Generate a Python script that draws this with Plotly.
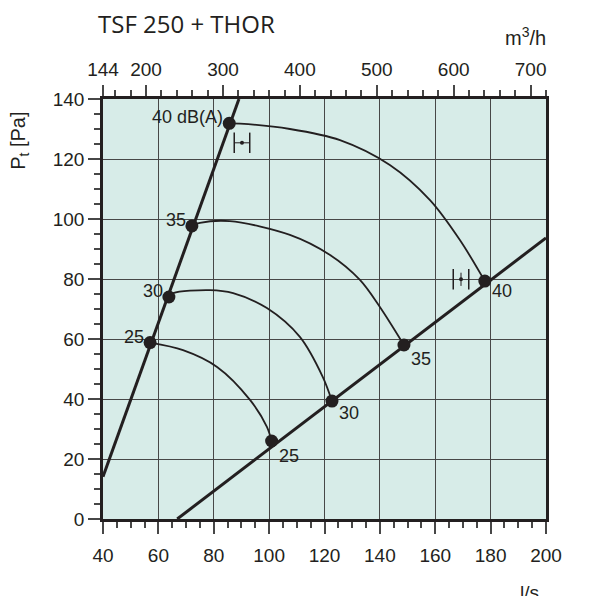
import plotly.graph_objects as go

# flow in l/s, pressure in Pa
levels = ["25", "30", "35", "40"]
left_q = [57.0, 63.8, 72.1, 85.6]
left_p = [58.8, 74.0, 97.7, 131.9]
right_q = [100.9, 122.7, 148.7, 177.9]
right_p = [26.0, 39.3, 58.0, 79.3]

# system lines
sys_left_q = [40, 89.1]
sys_left_p = [14.1, 140]
sys_right_q = [66.8, 200]
sys_right_p = [0, 93.7]

# sound level curves (dB(A)) between the two system lines
curve_q = {
    "25": [57.0, 68.9, 81.2, 93.1, 99.2, 100.9],
    "30": [63.8, 65.4, 78.6, 87.0, 99.2, 111.1, 119.4, 122.7],
    "35": [72.1, 75.0, 85.8, 107.5, 122.0, 132.8, 140.0, 148.7],
    "40": [85.6, 89.5, 107.5, 125.6, 143.6, 158.1, 168.9, 177.9],
}
curve_p = {
    "25": [58.8, 56.3, 50.7, 39.7, 30.7, 26.0],
    "30": [74.0, 75.3, 76.3, 75.3, 70.3, 60.7, 47.3, 39.3],
    "35": [97.7, 98.7, 99.3, 94.7, 88.0, 79.7, 70.7, 58.0],
    "40": [131.9, 131.8, 130.0, 126.3, 118.0, 106.3, 93.0, 79.3],
}

# tolerance markers (position in l/s, Pa)
tol_q = [90.2, 169.3]
tol_p = [125.4, 79.9]

m3h_ticks = [144, 200, 300, 400, 500, 600, 700]

ink = "#231f20"
grid = "#474747"
fnt = "Liberation Sans"

fig = go.Figure()

fig.add_trace(go.Scatter(x=sys_left_q, y=sys_left_p, mode="lines",
                         line=dict(color=ink, width=3), hoverinfo="skip"))
fig.add_trace(go.Scatter(x=sys_right_q, y=sys_right_p, mode="lines",
                         line=dict(color=ink, width=3), hoverinfo="skip"))

for lv in levels:
    fig.add_trace(go.Scatter(x=curve_q[lv], y=curve_p[lv], mode="lines",
                             line=dict(color=ink, width=1.8, shape="spline", smoothing=0.9),
                             hoverinfo="skip"))

fig.add_trace(go.Scatter(x=left_q, y=left_p, mode="markers",
                         marker=dict(color=ink, size=13)))
fig.add_trace(go.Scatter(x=right_q, y=right_p, mode="markers",
                         marker=dict(color=ink, size=13)))

# tolerance dots
fig.add_trace(go.Scatter(x=tol_q, y=tol_p, mode="markers",
                         marker=dict(color=ink, size=4)))

# dummy on top axis so it is drawn
fig.add_trace(go.Scatter(x=[144, 720], y=[0, 0], xaxis="x2", mode="markers",
                         marker=dict(opacity=0), hoverinfo="skip"))

# tolerance brackets
for i, (q, p) in enumerate(zip(tol_q, tol_p)):
    half = 2.8
    for dx in (-half, half):
        fig.add_shape(type="line", x0=q + dx, x1=q + dx, y0=p - 3.4, y1=p + 3.4,
                      line=dict(color=ink, width=1.5))
    if i == 0:
        fig.add_shape(type="line", x0=q - half, x1=q + half, y0=p, y1=p,
                      line=dict(color=ink, width=1))
    else:
        fig.add_shape(type="line", x0=q, x1=q, y0=p - 2.2, y1=p + 2.2,
                      line=dict(color=ink, width=1))

# labels
right_shift = [-3, 0, -2, 2]
for i, lv in enumerate(levels):
    txt = "40 dB(A)" if lv == "40" else lv
    fig.add_annotation(x=left_q[i], y=left_p[i], text=txt, showarrow=False,
                       xanchor="right", xshift=-4, yshift=6,
                       font=dict(size=18, color=ink, family=fnt))
    fig.add_annotation(x=right_q[i], y=right_p[i], text=lv, showarrow=False,
                       xanchor="left", yanchor="top", xshift=5, yshift=right_shift[i],
                       font=dict(size=18, color=ink, family=fnt))

fig.add_annotation(xref="paper", yref="paper", x=-0.016, y=1.18, text="TSF 250 + THOR",
                   showarrow=False, xanchor="left", yanchor="middle",
                   font=dict(size=24, color=ink, family="Open Sans"))
fig.add_annotation(xref="paper", yref="paper", x=0.953, y=1.148, text="m<sup>3</sup>/h",
                   showarrow=False, xanchor="center", yanchor="middle",
                   font=dict(size=20, color=ink, family=fnt))
fig.add_annotation(xref="paper", yref="paper", x=0.963, y=-0.176, text="l/s",
                   showarrow=False, xanchor="center", yanchor="middle",
                   font=dict(size=19, color=ink, family=fnt))
fig.add_annotation(xref="paper", yref="paper", x=-0.19, y=0.9, text="P<sub>t</sub> [Pa]",
                   showarrow=False, textangle=-90, xanchor="center", yanchor="middle",
                   font=dict(size=20, color=ink, family=fnt))

axis_font = dict(size=19, color=ink, family=fnt)

fig.update_layout(
    width=581, height=588,
    margin=dict(l=95, r=43, t=91, b=77),
    paper_bgcolor="white", plot_bgcolor="#d7ece8",
    showlegend=False,
    xaxis=dict(range=[40, 200], tickvals=list(range(40, 201, 20)),
               ticks="outside", ticklen=12, tickwidth=1.5, tickcolor=grid,
               showgrid=True, gridcolor=grid, gridwidth=1.4,
               showline=True, linecolor=ink, linewidth=2.5, mirror=False,
               zeroline=False, tickfont=axis_font, ticklabelstandoff=5,
               minor=dict(dtick=5, tick0=40, ticks="outside", ticklen=6,
                          tickwidth=1.5, tickcolor=grid, showgrid=False)),
    xaxis2=dict(range=[144, 720], overlaying="x", side="top", tickvals=m3h_ticks,
                ticks="outside", ticklen=11, tickwidth=1.5, tickcolor=grid,
                showgrid=False, showline=True, linecolor=ink, linewidth=2.5,
                zeroline=False, tickfont=axis_font, ticklabelstandoff=2,
                minor=dict(dtick=20, tick0=0, ticks="outside", ticklen=6,
                           tickwidth=1.5, tickcolor=grid, showgrid=False)),
    yaxis=dict(range=[0, 140], tickvals=list(range(0, 141, 20)),
               ticks="outside", ticklen=12, tickwidth=1.5, tickcolor=grid,
               showgrid=True, gridcolor=grid, gridwidth=1.4,
               showline=True, linecolor=ink, linewidth=2.5, mirror=True,
               zeroline=False, tickfont=axis_font,
               minor=dict(dtick=5, tick0=0, ticks="outside", ticklen=6,
                          tickwidth=1.5, tickcolor=grid, showgrid=False)),
)

fig.write_html("out.html")
